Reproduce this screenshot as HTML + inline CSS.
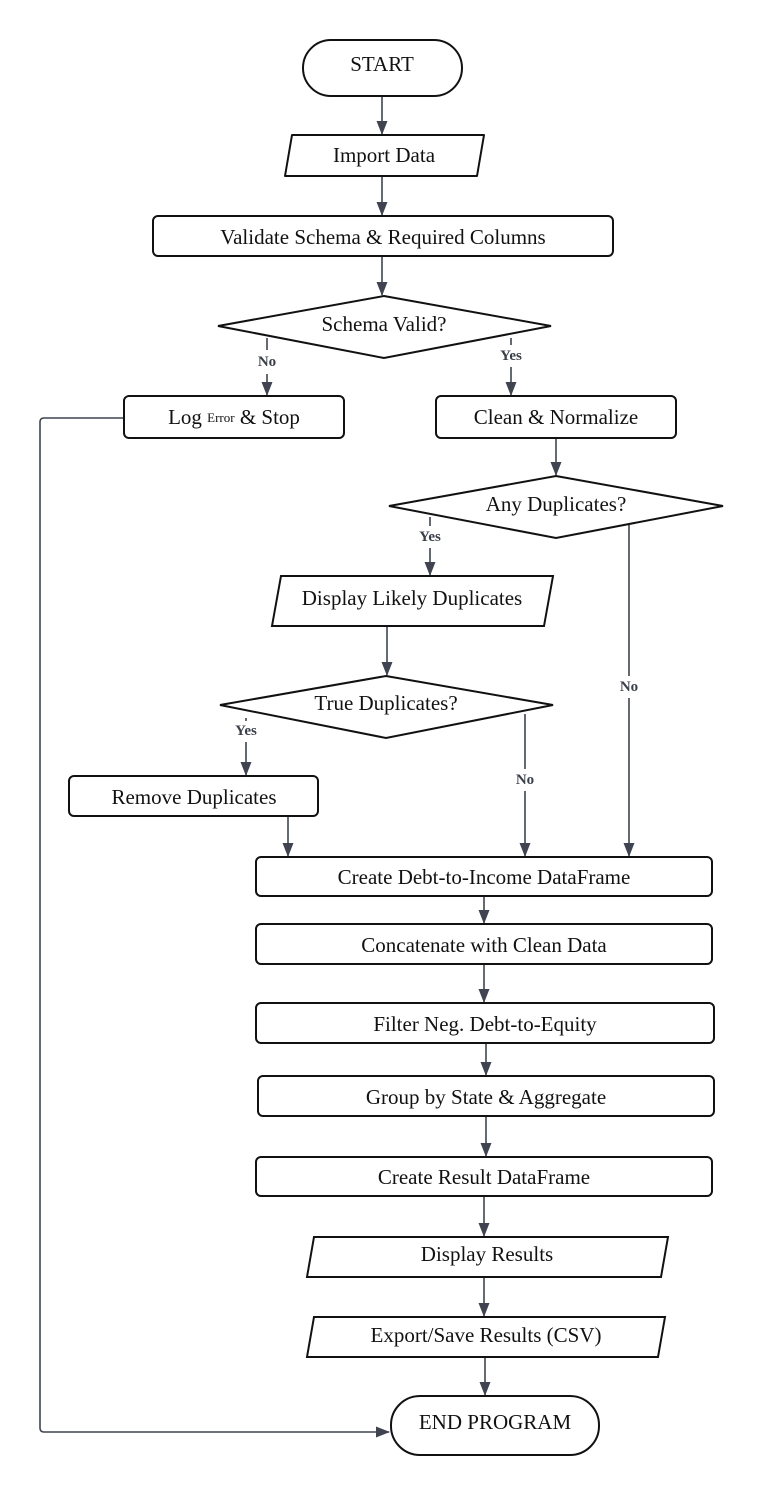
<!DOCTYPE html>
<html><head><meta charset="utf-8"><style>
html,body{margin:0;padding:0;background:#fff}
svg{display:block}
text{font-family:"Liberation Serif",serif;fill:#111}
.t{font-size:21px;text-anchor:middle;dominant-baseline:central}
.l{font-size:15px;font-weight:bold;text-anchor:middle;dominant-baseline:central;fill:#3a3f4a}
.s{fill:#fff;stroke:#111;stroke-width:2}
.c{stroke:#3f4450;stroke-width:1.6;fill:none}
</style></head><body>
<svg width="767" height="1496" viewBox="0 0 767 1496" xmlns="http://www.w3.org/2000/svg">
<defs><marker id="a" markerWidth="14" markerHeight="12" refX="13" refY="6" orient="auto" markerUnits="userSpaceOnUse"><path d="M0,0.5 L14,6 L0,11.5 z" fill="#3f4450"/></marker></defs>

<g class="c" marker-end="url(#a)">
<path d="M382,96 V134"/>
<path d="M382,176 V215"/>
<path d="M382,256 V295"/>
<path d="M267,338 V350 M267,374 V395"/>
<path d="M511,338 V345 M511,367 V395"/>
<path d="M124,418 H44 Q40,418 40,422 V1428 Q40,1432 44,1432 H389"/>
<path d="M556,438 V475"/>
<path d="M430,517 V526 M430,548 V575"/>
<path d="M629,525 V676 M629,698 V856"/>
<path d="M387,626 V675"/>
<path d="M246,718 V721 M246,742 V775"/>
<path d="M525,714 V769 M525,791 V856"/>
<path d="M288,816 V856"/>
<path d="M484,896 V923"/>
<path d="M484,964 V1002"/>
<path d="M486,1043 V1075"/>
<path d="M486,1116 V1156"/>
<path d="M484,1196 V1236"/>
<path d="M484,1277 V1316"/>
<path d="M485,1357 V1395"/>
</g>

<text class="l" x="267" y="362">No</text>
<text class="l" x="511" y="356">Yes</text>
<text class="l" x="430" y="537">Yes</text>
<text class="l" x="629" y="687">No</text>
<text class="l" x="246" y="731">Yes</text>
<text class="l" x="525" y="780">No</text>

<rect class="s" x="303" y="40" width="159" height="56" rx="28"/>
<text class="t" x="382" y="64">START</text>

<path class="s" d="M292,135 H484 L477,176 H285 Z" stroke-linejoin="round"/>
<text class="t" x="384" y="155">Import Data</text>

<rect class="s" x="153" y="216" width="460" height="40" rx="5"/>
<text class="t" x="383" y="237">Validate Schema &amp; Required Columns</text>

<path class="s" d="M384,296 L551,326 L384,358 L218,326 Z"/>
<text class="t" x="384" y="324">Schema Valid?</text>

<rect class="s" x="124" y="396" width="220" height="42" rx="5"/>
<text class="t" x="234" y="417">Log <tspan font-size="13">Error</tspan> &amp; Stop</text>

<rect class="s" x="436" y="396" width="240" height="42" rx="5"/>
<text class="t" x="556" y="417">Clean &amp; Normalize</text>

<path class="s" d="M556,476 L723,506 L556,538 L389,506 Z"/>
<text class="t" x="556" y="504">Any Duplicates?</text>

<path class="s" d="M281,576 H553 L544,626 H272 Z"/>
<text class="t" x="412" y="598">Display Likely Duplicates</text>

<path class="s" d="M386,676 L553,705 L386,738 L220,705 Z"/>
<text class="t" x="386" y="703">True Duplicates?</text>

<rect class="s" x="69" y="776" width="249" height="40" rx="5"/>
<text class="t" x="194" y="797">Remove Duplicates</text>

<rect class="s" x="256" y="857" width="456" height="39" rx="5"/>
<text class="t" x="484" y="877">Create Debt-to-Income DataFrame</text>

<rect class="s" x="256" y="924" width="456" height="40" rx="5"/>
<text class="t" x="484" y="945">Concatenate with Clean Data</text>

<rect class="s" x="256" y="1003" width="458" height="40" rx="5"/>
<text class="t" x="485" y="1024">Filter Neg. Debt-to-Equity</text>

<rect class="s" x="258" y="1076" width="456" height="40" rx="5"/>
<text class="t" x="486" y="1097">Group by State &amp; Aggregate</text>

<rect class="s" x="256" y="1157" width="456" height="39" rx="5"/>
<text class="t" x="484" y="1177">Create Result DataFrame</text>

<path class="s" d="M314,1237 H668 L661,1277 H307 Z"/>
<text class="t" x="487" y="1254">Display Results</text>

<path class="s" d="M314,1317 H665 L658,1357 H307 Z"/>
<text class="t" x="486" y="1335">Export/Save Results (CSV)</text>

<rect class="s" x="391" y="1396" width="208" height="59" rx="29"/>
<text class="t" x="495" y="1422">END PROGRAM</text>
</svg>
</body></html>
